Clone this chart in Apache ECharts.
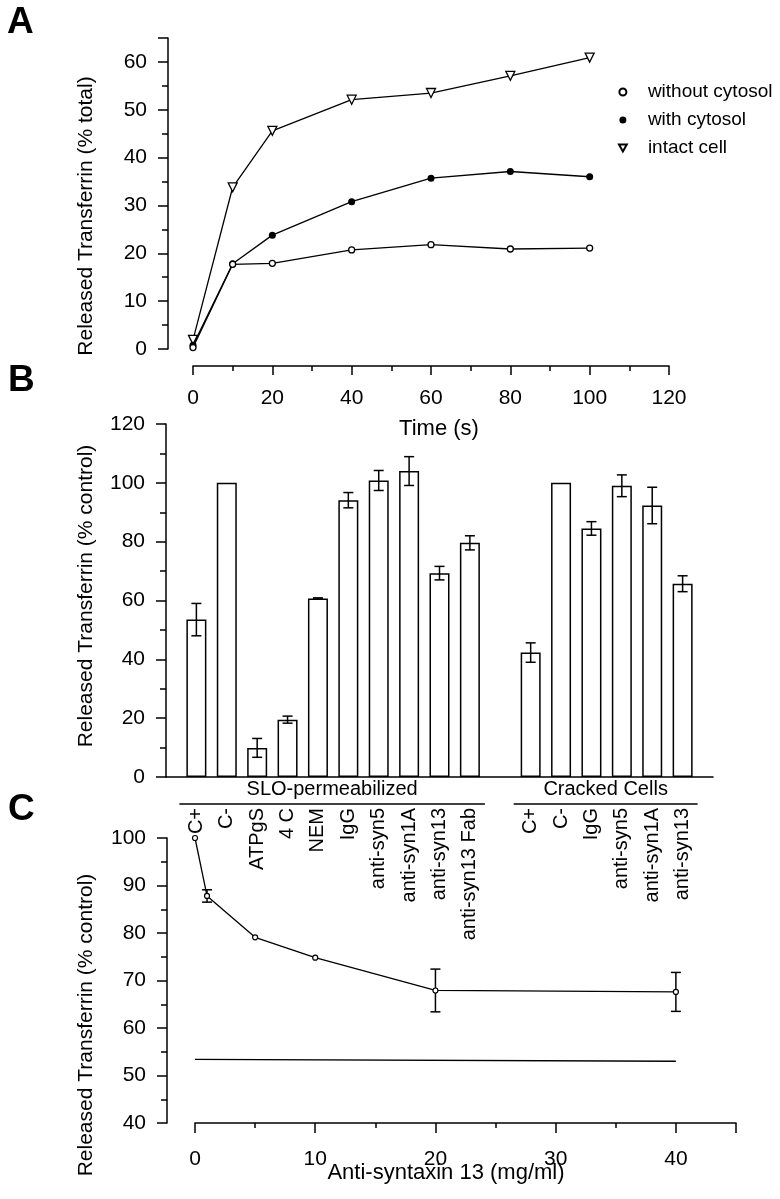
<!DOCTYPE html>
<html>
<head>
<meta charset="utf-8">
<script src="https://cdn.jsdelivr.net/npm/echarts@6/dist/echarts.min.js"></script>
<style>
html,body{margin:0;padding:0;background:#fff;}
#chart{width:780px;height:1199px;}
</style>
</head>
<body>
<div id="chart"></div>
<script>
// ---------- Panel A data ----------
const timeS = [0, 10, 20, 40, 60, 80, 100];
const withoutCytosol = [0.3, 17.7, 17.9, 20.7, 21.8, 20.9, 21.1];
const withCytosol = [0.8, 17.8, 23.8, 30.8, 35.7, 37.1, 36.0];
const intactCell = [1.9, 33.8, 45.6, 52.1, 53.5, 57.1, 60.9];

// ---------- Panel B data ----------
const sloCategories = ['C+', 'C-', 'ATPgS', '4 C', 'NEM', 'IgG', 'anti-syn5', 'anti-syn1A', 'anti-syn13', 'anti-syn13 Fab'];
const sloValues = [53.5, 100, 9.9, 19.5, 60.7, 94.1, 100.8, 104.0, 69.3, 79.6];
const sloErrors = [5.5, 0, 3.2, 1.2, 0.2, 2.6, 3.4, 4.9, 2.3, 2.4];
const crackedCategories = ['C+', 'C-', 'IgG', 'anti-syn5', 'anti-syn1A', 'anti-syn13'];
const crackedValues = [42.3, 100, 84.5, 99.0, 92.3, 65.7];
const crackedErrors = [3.3, 0, 2.3, 3.7, 6.2, 2.7];
const groupNames = ['SLO-permeabilized', 'Cracked Cells'];

// ---------- Panel C data ----------
const doseMgMl = [0, 1, 5, 10, 20, 40];
const doseRelease = [100, 87.8, 79.1, 74.8, 67.9, 67.6];
const doseError = [0, 1.3, 0, 0, 4.5, 4.1];
const controlX = [0, 40];
const controlY = [53.4, 53.0];

// ---------- build ----------
const FONT = '"Liberation Sans", Arial, Helvetica, sans-serif';
const zip = (a, b) => a.map((v, i) => [v, b[i]]);

// category axis for B: blank slot, SLO group, blank slot, cracked group, blank slot
const bCats = [''].concat(sloCategories, [''], crackedCategories, ['']);
const bVals = [null].concat(sloValues, [null], crackedValues, [null]);
const bErrs = [null].concat(sloErrors, [null], crackedErrors, [null]);
const bErrData = [];
bVals.forEach((v, i) => { if (v != null && bErrs[i] > 0) bErrData.push([i, v - bErrs[i], v + bErrs[i]]); });
const sloStart = 1, sloEnd = sloCategories.length;
const crStart = sloEnd + 2, crEnd = crStart + crackedCategories.length - 1;
const groupData = [[sloStart, sloEnd, 0], [crStart, crEnd, 0]];

const cErrData = [];
doseMgMl.forEach((x, i) => { if (doseError[i] > 0) cErrData.push([x, doseRelease[i] - doseError[i], doseRelease[i] + doseError[i]]); });

const black = '#000';
const axisLine = { show: true, onZero: false, lineStyle: { color: black, width: 1.5 } };
const axisTick = { show: true, inside: false, length: 10, lineStyle: { color: black, width: 1.5 } };
const minorTick = { show: true, splitNumber: 2, length: 6, lineStyle: { color: black, width: 1.5 } };
const lbl = (extra) => Object.assign({ color: black, fontSize: 21, fontFamily: FONT }, extra || {});

function errRender(params, api) {
  const x = api.value(0);
  const p1 = api.coord([x, api.value(1)]);
  const p2 = api.coord([x, api.value(2)]);
  const hw = 5;
  const st = { stroke: black, lineWidth: 1.5 };
  return { type: 'group', children: [
    { type: 'line', shape: { x1: p1[0], y1: p1[1], x2: p2[0], y2: p2[1] }, style: st },
    { type: 'line', shape: { x1: p1[0] - hw, y1: p1[1], x2: p1[0] + hw, y2: p1[1] }, style: st },
    { type: 'line', shape: { x1: p2[0] - hw, y1: p2[1], x2: p2[0] + hw, y2: p2[1] }, style: st }
  ] };
}

const chart = echarts.init(document.getElementById('chart'), null, { renderer: 'canvas' });
chart.setOption({
  animation: false,
  backgroundColor: '#fff',
  textStyle: { fontFamily: FONT, color: black },
  grid: [
    { left: 193, right: 111, top: 38, bottom: 850 },
    { left: 166, right: 67, top: 424, bottom: 422 },
    { left: 195, right: 44, top: 838, bottom: 76 }
  ],
  legend: {
    show: true, orient: 'vertical', left: 618, top: 82, itemGap: 8, padding: 0,
    itemWidth: 40, itemHeight: 7, selectedMode: false,
    textStyle: { fontSize: 19, fontFamily: FONT, color: black, lineHeight: 20 },
    data: [
      { name: 'without cytosol', icon: 'circle' },
      { name: 'with cytosol', icon: 'circle' },
      { name: 'intact cell', icon: 'path://M0,0L10,0L5,9Z' }
    ]
  },
  xAxis: [
    { type: 'value', gridIndex: 0, min: 0, max: 120, interval: 20, offset: 17,
      axisLine, axisTick: Object.assign({}, axisTick, { length: 9 }), minorTick: Object.assign({}, minorTick, { length: 5 }),
      splitLine: { show: false }, axisLabel: lbl({ margin: 22 }),
      name: 'Time (s)', nameLocation: 'middle', nameGap: 52,
      nameTextStyle: { fontSize: 22, fontFamily: FONT, color: black, padding: [0, 0, 0, 16] } },
    { type: 'category', gridIndex: 1, data: bCats, boundaryGap: false,
      axisLine, axisTick: { show: false },
      axisLabel: lbl({ fontSize: 20, rotate: 90, margin: 31, interval: 0 }) },
    { type: 'value', gridIndex: 2, min: 0, max: 45, interval: 10, offset: 0,
      axisLine, axisTick, minorTick: Object.assign({}, minorTick, { length: 5 }),
      splitLine: { show: false },
      axisLabel: lbl({ margin: 26, formatter: v => (v % 10 === 0 ? String(v) : '') }),
      name: 'Anti-syntaxin 13 (mg/ml)', nameLocation: 'middle', nameGap: 39, nameMoveOverlap: false,
      nameTextStyle: { fontSize: 22, fontFamily: FONT, color: black, padding: [0, 39, 0, 0] } }
  ],
  yAxis: [
    { type: 'value', gridIndex: 0, min: 0, max: 65, interval: 10, offset: 25,
      axisLine, axisTick, minorTick, splitLine: { show: false },
      axisLabel: lbl({ margin: 21, formatter: v => (v % 10 === 0 ? String(v) : '') }) },
    { type: 'value', gridIndex: 1, min: 0, max: 120, interval: 20,
      axisLine, axisTick, minorTick, splitLine: { show: false },
      axisLabel: lbl({ margin: 21 }) },
    { type: 'value', gridIndex: 2, min: 40, max: 100, interval: 10, offset: 28,
      axisLine, axisTick, minorTick, splitLine: { show: false },
      axisLabel: lbl({ margin: 21 }) }
  ],
  series: [
    { name: 'without cytosol', type: 'line', xAxisIndex: 0, yAxisIndex: 0, data: zip(timeS, withoutCytosol),
      symbol: 'circle', symbolSize: 6, z: 4,
      itemStyle: { color: '#fff', borderColor: black, borderWidth: 1.3 }, lineStyle: { color: black, width: 1.3 } },
    { name: 'with cytosol', type: 'line', xAxisIndex: 0, yAxisIndex: 0, data: zip(timeS, withCytosol),
      symbol: 'circle', symbolSize: 7, z: 3,
      itemStyle: { color: black, borderColor: black, borderWidth: 0 }, lineStyle: { color: black, width: 1.3 } },
    { name: 'intact cell', type: 'line', xAxisIndex: 0, yAxisIndex: 0, data: zip(timeS, intactCell),
      symbol: 'triangle', symbolRotate: 180, symbolSize: 9, z: 2,
      itemStyle: { color: '#fff', borderColor: black, borderWidth: 1.3 }, lineStyle: { color: black, width: 1.3 } },

    { type: 'bar', xAxisIndex: 1, yAxisIndex: 1, data: bVals, barWidth: 20, silent: true,
      itemStyle: { color: '#fff', borderColor: black, borderWidth: 1.5 } },
    { type: 'custom', xAxisIndex: 1, yAxisIndex: 1, data: bErrData, renderItem: errRender, z: 5, silent: true,
      encode: { x: 0, y: [1, 2] } },
    { type: 'custom', xAxisIndex: 1, yAxisIndex: 1, data: groupData, clip: false, silent: true,
      encode: { x: [0, 1], y: 2 },
      renderItem: function (params, api) {
        const a = api.coord([api.value(0), 0]);
        const b = api.coord([api.value(1), 0]);
        const y = a[1];
        const x1 = a[0] - 17, x2 = b[0] + 15;
        return { type: 'group', children: [
          { type: 'line', shape: { x1: x1, y1: y + 27, x2: x2, y2: y + 27 }, style: { stroke: black, lineWidth: 1.5 } },
          { type: 'text', x: (x1 + x2) / 2, y: y + 12,
            style: { text: groupNames[params.dataIndex], align: 'center', verticalAlign: 'middle',
              fontSize: 20, fontFamily: FONT, fill: black } }
        ] };
      } },

    { type: 'line', xAxisIndex: 2, yAxisIndex: 2, data: zip(doseMgMl, doseRelease),
      symbol: 'circle', symbolSize: 5, z: 4,
      itemStyle: { color: '#fff', borderColor: black, borderWidth: 1.2 }, lineStyle: { color: black, width: 1.3 } },
    { type: 'custom', xAxisIndex: 2, yAxisIndex: 2, data: cErrData, renderItem: errRender, z: 3, silent: true,
      encode: { x: 0, y: [1, 2] } },
    { type: 'line', xAxisIndex: 2, yAxisIndex: 2, data: zip(controlX, controlY), symbol: 'none',
      lineStyle: { color: black, width: 1.3 } }
  ],
  graphic: [
    { type: 'text', left: 7, top: 4, style: { text: 'A', fontSize: 37, fontWeight: 'bold', fontFamily: FONT, fill: black } },
    { type: 'text', left: 8, top: 362, style: { text: 'B', fontSize: 37, fontWeight: 'bold', fontFamily: FONT, fill: black } },
    { type: 'text', left: 8, top: 791, style: { text: 'C', fontSize: 37, fontWeight: 'bold', fontFamily: FONT, fill: black } },
    { type: 'text', x: 86, y: 216, rotation: Math.PI / 2,
      style: { text: 'Released Transferrin (% total)', align: 'center', verticalAlign: 'middle', fontSize: 21, fontFamily: FONT, fill: black } },
    { type: 'text', x: 86, y: 596, rotation: Math.PI / 2,
      style: { text: 'Released Transferrin (% control)', align: 'center', verticalAlign: 'middle', fontSize: 21, fontFamily: FONT, fill: black } },
    { type: 'text', x: 86, y: 1025, rotation: Math.PI / 2,
      style: { text: 'Released Transferrin (% control)', align: 'center', verticalAlign: 'middle', fontSize: 21, fontFamily: FONT, fill: black } }
  ]
});
</script>
</body>
</html>
